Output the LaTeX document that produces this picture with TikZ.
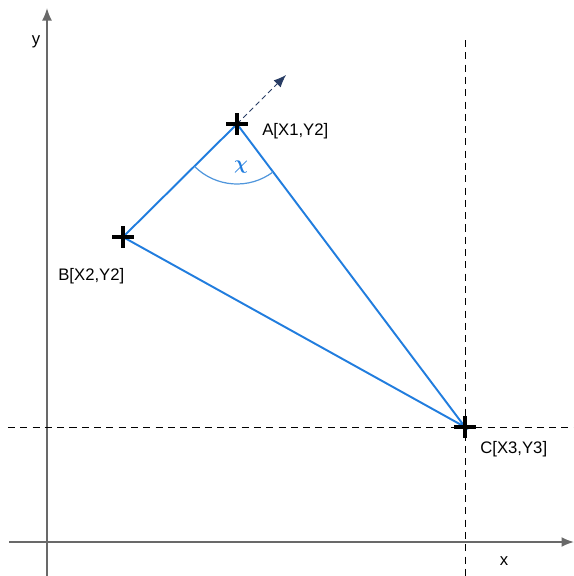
\documentclass[tikz,border=0pt]{standalone}
\usepackage{amsmath,amssymb}
\usepackage{fontspec}
\setmainfont{Liberation Sans}
\usepackage{tikz}
\usetikzlibrary{arrows.meta}
\usetikzlibrary{positioning,calc}
\definecolor{edgeblue}{RGB}{33,125,222}
\definecolor{arcblue}{RGB}{80,150,220}
\definecolor{axisgray}{RGB}{105,105,105}
\definecolor{dirnavy}{RGB}{40,60,100}

\tikzset{
  ptlabel/.style={font=\fontsize{9.5}{11}\selectfont,inner sep=0pt},
  edge/.style={edgeblue,line width=1.1pt},
  guide/.style={black,dashed,line width=0.5pt,dash pattern=on 4pt off 3pt},
  axis/.style={axisgray,line width=1pt,-{Latex[length=2.5mm,width=2mm]}},
  crossmark/.style={black,line width=2pt}
}

\begin{document}
\begin{tikzpicture}[x=0.02cm,y=-0.02cm]
    \useasboundingbox (0,0) rectangle (574,576);
    % axes
    \coordinate (ybot) at (47,576);
    \coordinate (ytop) at (47,8);
    \coordinate (xleft) at (9,542);
    \coordinate (xright) at (574,542);
    \draw[axis] (ybot) -- (ytop);
    \draw[axis] (xleft) -- (xright);
    \node[ptlabel] (ylab) at (36,42) {y};
    \node[ptlabel] (xlab) at (504,561) {x};
    % points
    \coordinate (A) at (237,124);
    \coordinate (B) at (123,237);
    \coordinate (C) at (465,427);
    % guides through C
    \coordinate (gtop) at (465,40);
    \coordinate (gbot) at (465,576);
    \coordinate (gleft) at (8,427);
    \coordinate (gright) at (574,427);
    \draw[guide] (gtop) -- (gbot);
    \draw[guide] (gleft) -- (gright);
    % triangle
    \draw[edge] (B) -- (A) -- (C) -- cycle;
    % angle at A
    \draw[arcblue,line width=0.7pt] ($(A)+(225:1.2cm)$) arc[start angle=225,end angle=307,radius=1.2cm];
    \node[text=edgeblue,font=\fontsize{11}{13}\selectfont] (chi) at (241,167) {$\boldsymbol{\chi}$};
    % direction from A
    \coordinate (dir) at (286,75);
    \draw[dirnavy,dashed,line width=0.5pt,dash pattern=on 3pt off 2pt,-{Latex[length=2.5mm,width=2mm]}] (A) -- (dir);
    % crosses
    \foreach \p in {A,B,C}{
      \draw[crossmark] ($(\p)+(-11,0)$) -- ($(\p)+(11,0)$);
      \draw[crossmark] ($(\p)+(0,-11)$) -- ($(\p)+(0,11)$);}
    % labels
    \node[ptlabel,anchor=west] (Alab) at (262,131) {A[X1,Y2]};
    \node[ptlabel,anchor=west] (Blab) at (58,276) {B[X2,Y2]};
    \node[ptlabel,anchor=west] (Clab) at (480,449) {C[X3,Y3]};
  \end{tikzpicture}
\end{document}
